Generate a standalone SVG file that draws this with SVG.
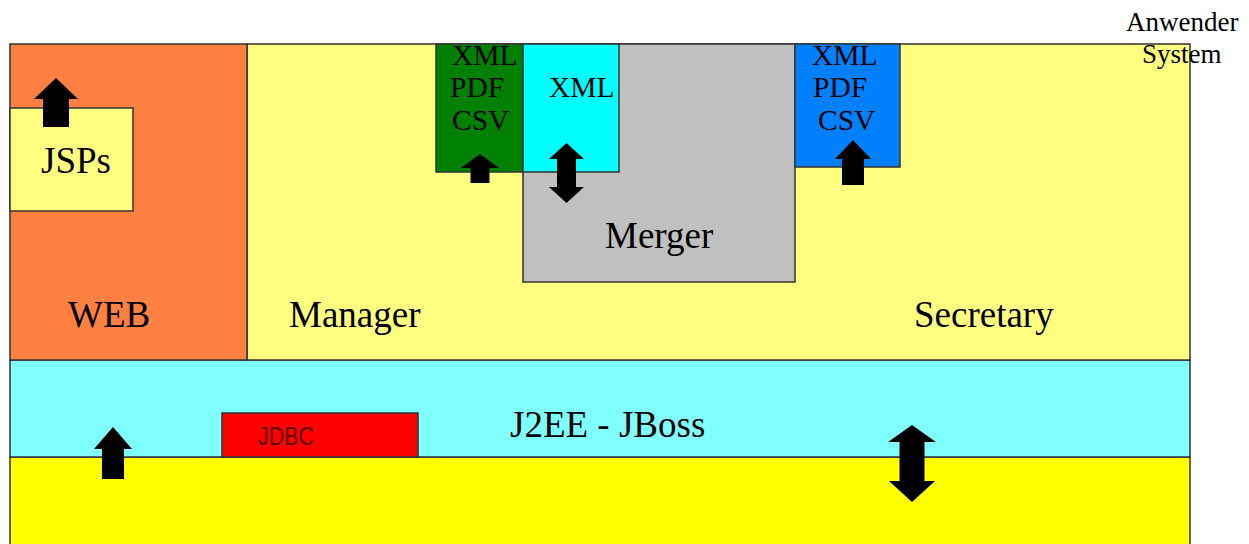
<svg xmlns="http://www.w3.org/2000/svg" width="1249" height="544" viewBox="0 0 1249 544">
  <style>
    .box { stroke: #333333; stroke-width: 1.5; }
    .serif { font-family: "Liberation Serif", "Times New Roman", serif; fill: #000000; }
    .big { font-size: 37px; }
    .mid { font-size: 29.5px; }
    .arrow { fill: #000000; }
  </style>
  <rect width="1249" height="544" fill="#ffffff"/>

  <g id="db">
    <rect class="box" x="10" y="457" width="1180" height="100" fill="#FFFF00"/>
  </g>
  <g id="j2ee">
    <rect class="box" x="10" y="360" width="1180" height="97" fill="#80FFFF"/>
    <text class="serif big" x="510" y="437">J2EE - JBoss</text>
  </g>
  <g id="jdbc">
    <rect class="box" x="222" y="413" width="196" height="44" fill="#FF0000"/>
    <text x="258" y="445" font-family="Liberation Sans, Arial, sans-serif" font-size="25" fill="#600000" textLength="56" lengthAdjust="spacingAndGlyphs">JDBC</text>
  </g>
  <g id="anwender">
    <rect class="box" x="247" y="44" width="943" height="316" fill="#FFFF80"/>
    <text class="serif big" x="289" y="327">Manager</text>
    <text class="serif big" x="914" y="327">Secretary</text>
  </g>
  <g id="web">
    <rect class="box" x="10" y="44" width="237" height="316" fill="#FF8040"/>
    <text class="serif big" x="68" y="327">WEB</text>
  </g>
  <g id="jsps">
    <rect class="box" x="10" y="108" width="123" height="103" fill="#FFFF80"/>
    <text class="serif big" x="41" y="173">JSPs</text>
  </g>
  <g id="merger">
    <rect class="box" x="523" y="44" width="272" height="238" fill="#C0C0C0"/>
    <text class="serif big" x="605" y="248">Merger</text>
  </g>
  <g id="export-manager">
    <rect class="box" x="436" y="44" width="87" height="128" fill="#008000"/>
    <text class="serif mid" x="452" y="65">XML</text>
    <text class="serif mid" x="450" y="97">PDF</text>
    <text class="serif mid" x="452" y="130">CSV</text>
  </g>
  <g id="xml-merger">
    <rect class="box" x="523" y="44" width="96" height="128" fill="#00FFFF"/>
    <text class="serif mid" x="549" y="97">XML</text>
  </g>
  <g id="export-secretary">
    <rect class="box" x="795" y="44" width="105" height="123" fill="#0080FF"/>
    <text class="serif mid" x="812" y="65">XML</text>
    <text class="serif mid" x="813" y="97">PDF</text>
    <text class="serif mid" x="818" y="130">CSV</text>
  </g>
  <g id="system-label">
    <text class="serif" font-size="27" x="1126" y="31">Anwender</text>
    <text class="serif" font-size="27" x="1142" y="63">System</text>
  </g>

  <g id="connectors">
    <polygon class="arrow" points="56,78 78,99 69,99 69,127 43,127 43,99 34,99"/>
    <polygon class="arrow" points="480,154 499,168 489.5,168 489.5,183 470.5,183 470.5,168 461,168"/>
    <polygon class="arrow" points="566.5,143 584,159 576,159 576,187 584,187 566.5,203 549,187 557,187 557,159 549,159"/>
    <polygon class="arrow" points="853,140 871,159 864,159 864,185 842,185 842,159 835,159"/>
    <polygon class="arrow" points="113,427 132,449 124,449 124,479 102,479 102,449 94,449"/>
    <polygon class="arrow" points="912,425 936,442 924.5,442 924.5,481 935,481 912,502 889,481 899.5,481 899.5,442 888,442"/>
  </g>
</svg>
